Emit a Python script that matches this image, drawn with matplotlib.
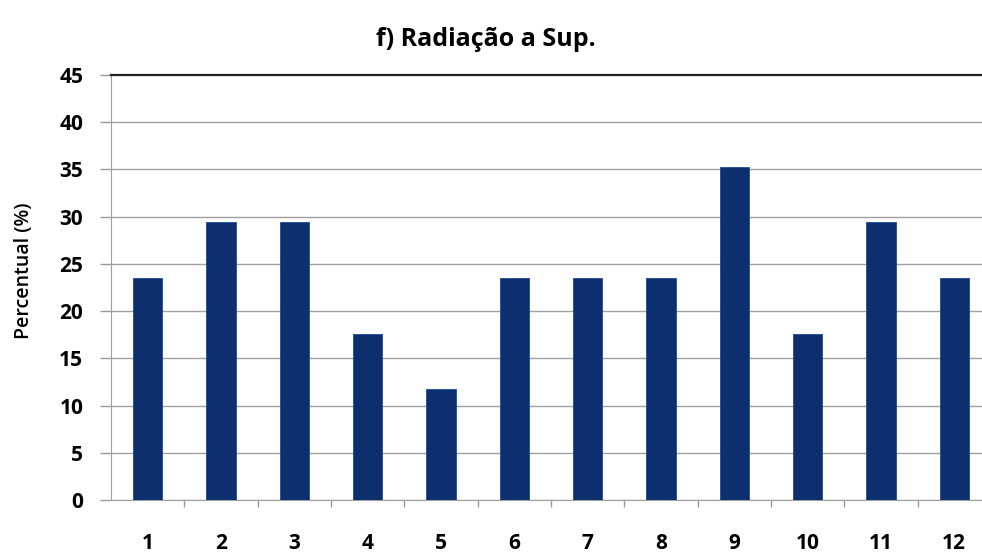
import matplotlib
matplotlib.use("Agg")
import matplotlib.pyplot as plt
import numpy as np

categories = ["1", "2", "3", "4", "5", "6", "7", "8", "9", "10", "11", "12"]
values = [23.5, 29.4, 29.4, 17.6, 11.8, 23.5, 23.5, 23.5, 35.3, 17.6, 29.4, 23.5]
yticks = [0, 5, 10, 15, 20, 25, 30, 35, 40, 45]

plt.rcParams['font.family'] = ['Open Sans', 'DejaVu Sans']

fig = plt.figure(figsize=(9.82, 5.54), dpi=100)
ax = fig.add_axes([0.113, 0.0975, 0.896, 0.767])

x = np.arange(len(categories))
ax.bar(x, values, width=0.4, color="#0d2f6e", edgecolor="#1b4a9a", linewidth=0.6, zorder=3)

ax.set_xlim(-0.5, len(categories) - 0.5)
ax.set_ylim(0, 45)
ax.set_yticks(yticks)
ax.set_yticklabels([str(t) for t in yticks], fontsize=15, fontweight='bold')
ax.set_xticks(x)
ax.set_xticklabels(categories, fontsize=15, fontweight='bold')
ax.set_xticks(np.arange(0.5, len(categories) - 0.5, 1), minor=True)
ax.tick_params(axis='x', which='major', length=0, pad=24)
ax.tick_params(axis='x', which='minor', length=5, color="#999999", width=1)
ax.tick_params(axis='y', length=8, color="#999999", width=1, pad=12)

for t in yticks[:-1]:
    ax.axhline(t, color="#a0a0a0", linewidth=1.0, zorder=1)
ax.axhline(45, color="#222222", linewidth=1.6, zorder=4, clip_on=False)

for s in ['top', 'right']:
    ax.spines[s].set_visible(False)
ax.spines['left'].set_color("#a0a0a0")
ax.spines['bottom'].set_color("#a0a0a0")

ax.set_ylabel("Percentual (%)", fontsize=14, fontweight='semibold')
ax.yaxis.set_label_coords(-0.087, 0.54)
fig.text(0.495, 0.928, "f) Radiação a Sup.", ha='center', va='center', fontsize=18, fontweight='bold')

fig.savefig("out.png", dpi=100)
